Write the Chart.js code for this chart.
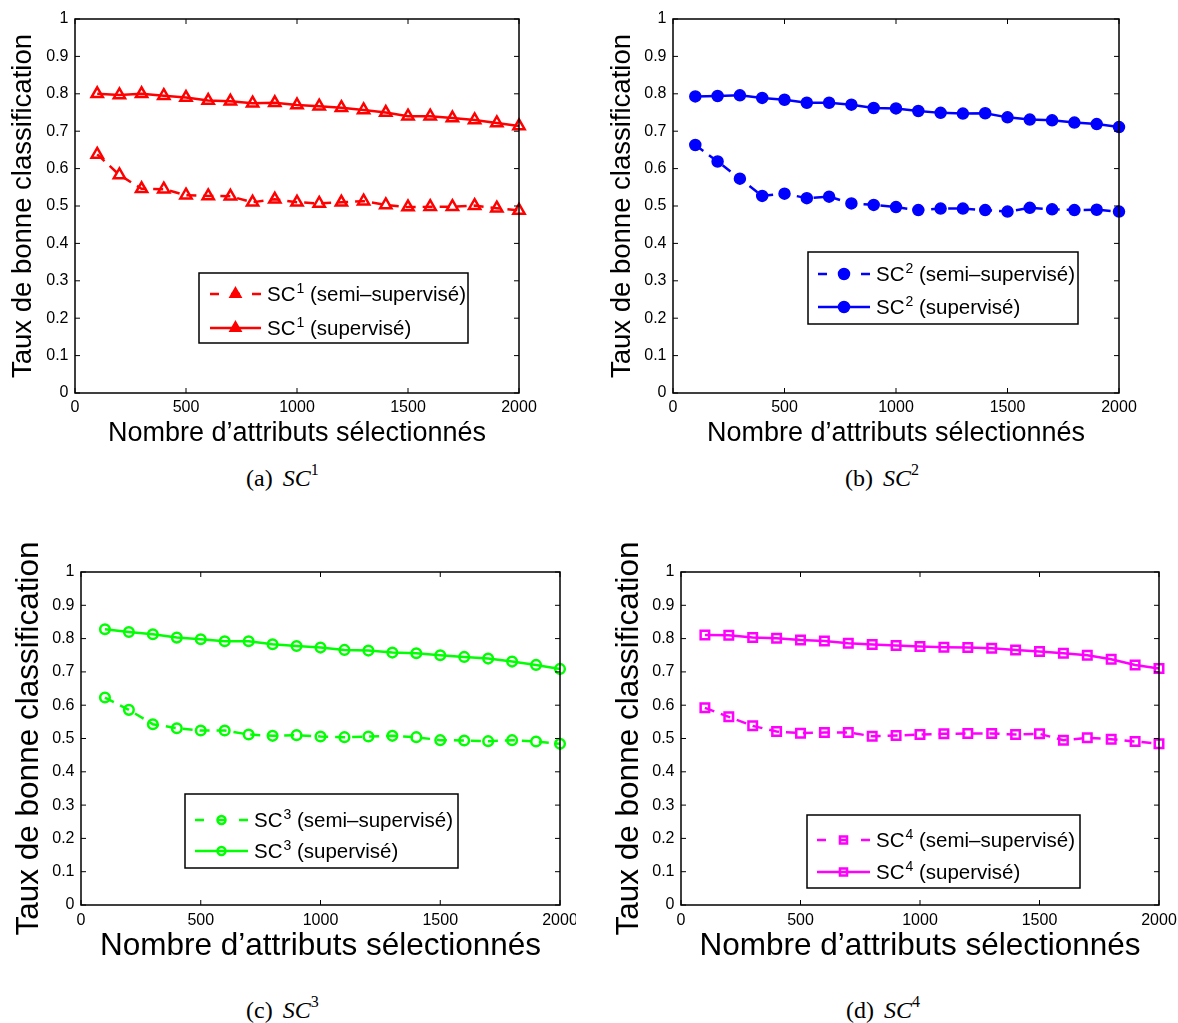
<!DOCTYPE html>
<html lang="fr">
<head>
<meta charset="utf-8">
<title>Taux de bonne classification – SC1 à SC4</title>
<script src="https://cdn.jsdelivr.net/npm/chart.js@4.4.1/dist/chart.umd.min.js"></script>
<style>
  html, body { margin: 0; padding: 0; background: #fff; }
  body { width: 1178px; height: 1023px; position: relative; overflow: hidden; }
  .panel { position: absolute; }
  .panel canvas { display: block; }
  .caption {
    position: absolute;
    font-family: "Liberation Serif", "Times New Roman", serif;
    font-size: 24px;
    line-height: 24px;
    color: #000;
    white-space: nowrap;
  }
  .caption i { font-style: italic; }
  .caption .sc { margin-left: 10px; }
  .caption sup { font-size: 16px; line-height: 0; position: relative; top: -2px; }
</style>
</head>
<body>

<div class="panel" style="left:0px;top:0px"><canvas id="chartA" width="560" height="460"></canvas></div>
<div class="panel" style="left:590px;top:0px"><canvas id="chartB" width="588" height="460"></canvas></div>
<div class="panel" style="left:0px;top:520px"><canvas id="chartC" width="576" height="470"></canvas></div>
<div class="panel" style="left:600px;top:520px"><canvas id="chartD" width="578" height="470"></canvas></div>

<div class="caption" style="left:246px;top:466px">(a)<span class="sc"><i>SC</i><sup>1</sup></span></div>
<div class="caption" style="left:845px;top:466px">(b)<span class="sc"><i>SC</i><sup>2</sup></span></div>
<div class="caption" style="left:246px;top:998px">(c)<span class="sc"><i>SC</i><sup>3</sup></span></div>
<div class="caption" style="left:846px;top:998px">(d)<span class="sc"><i>SC</i><sup>4</sup></span></div>

<script>
// Number of selected attributes (x values shared by every series)
const attributeCounts = [100, 200, 300, 400, 500, 600, 700, 800, 900, 1000,
                         1100, 1200, 1300, 1400, 1500, 1600, 1700, 1800, 1900, 2000];

// Classification rates, SC1
const sc1SemiSupervised = [0.638, 0.583, 0.546, 0.545, 0.529, 0.527, 0.526, 0.510, 0.518, 0.510,
                           0.507, 0.510, 0.513, 0.503, 0.497, 0.498, 0.498, 0.501, 0.494, 0.488];
const sc1Supervised     = [0.800, 0.797, 0.800, 0.795, 0.790, 0.782, 0.780, 0.775, 0.776, 0.770,
                           0.767, 0.763, 0.757, 0.750, 0.740, 0.740, 0.735, 0.730, 0.722, 0.714];

// Classification rates, SC2
const sc2SemiSupervised = [0.663, 0.619, 0.573, 0.527, 0.533, 0.521, 0.525, 0.507, 0.503, 0.497,
                           0.489, 0.493, 0.493, 0.489, 0.485, 0.495, 0.491, 0.489, 0.490, 0.485];
const sc2Supervised     = [0.793, 0.794, 0.796, 0.789, 0.784, 0.776, 0.776, 0.771, 0.762, 0.761,
                           0.754, 0.749, 0.747, 0.748, 0.737, 0.731, 0.729, 0.723, 0.719, 0.711];

// Classification rates, SC3
const sc3SemiSupervised = [0.623, 0.586, 0.543, 0.531, 0.524, 0.524, 0.512, 0.508, 0.510, 0.506,
                           0.504, 0.506, 0.508, 0.504, 0.495, 0.494, 0.492, 0.495, 0.491, 0.484];
const sc3Supervised     = [0.828, 0.820, 0.813, 0.803, 0.798, 0.792, 0.792, 0.783, 0.778, 0.773,
                           0.766, 0.764, 0.758, 0.756, 0.750, 0.745, 0.740, 0.731, 0.721, 0.709];

// Classification rates, SC4
const sc4SemiSupervised = [0.592, 0.565, 0.538, 0.521, 0.516, 0.518, 0.518, 0.507, 0.509, 0.512,
                           0.514, 0.515, 0.515, 0.512, 0.514, 0.495, 0.502, 0.498, 0.491, 0.484];
const sc4Supervised     = [0.811, 0.810, 0.803, 0.801, 0.796, 0.793, 0.786, 0.782, 0.779, 0.776,
                           0.774, 0.773, 0.771, 0.766, 0.761, 0.756, 0.750, 0.738, 0.721, 0.710];

// Axis ticks
const xTickValues = [0, 500, 1000, 1500, 2000];
const yTickValues = [0, 0.1, 0.2, 0.3, 0.4, 0.5, 0.6, 0.7, 0.8, 0.9, 1];

// Texts
const xAxisTitle = 'Nombre d\u2019attributs s\u00e9lectionn\u00e9s';
const yAxisTitle = 'Taux de bonne classification';
const semiSuffix = '(semi\u2013supervis\u00e9)';
const supSuffix = '(supervis\u00e9)';

const SANS = '"Liberation Sans", Arial, Helvetica, sans-serif';

const toPoints = values => values.map((v, i) => ({ x: attributeCounts[i], y: v }));

// Closed axes box with inward tick marks on all four sides
const axesFrame = {
  id: 'axesFrame',
  afterDatasetsDraw(chart, args, opts) {
    const { ctx, chartArea: a, scales: { x, y } } = chart;
    const len = opts.tickLength;
    ctx.save();
    ctx.strokeStyle = '#000';
    ctx.lineWidth = 1;
    ctx.beginPath();
    x.ticks.forEach(t => {
      const px = x.getPixelForValue(t.value);
      ctx.moveTo(px, a.bottom); ctx.lineTo(px, a.bottom - len);
      ctx.moveTo(px, a.top);    ctx.lineTo(px, a.top + len);
    });
    y.ticks.forEach(t => {
      const py = y.getPixelForValue(t.value);
      ctx.moveTo(a.left, py);  ctx.lineTo(a.left + len, py);
      ctx.moveTo(a.right, py); ctx.lineTo(a.right - len, py);
    });
    ctx.stroke();
    ctx.lineWidth = 1.5;
    ctx.strokeRect(a.left, a.top, a.right - a.left, a.bottom - a.top);
    ctx.restore();
  }
};

// Boxed legend placed inside the plot area, with superscript series index
const boxLegend = {
  id: 'boxLegend',
  afterDraw(chart, args, opts) {
    const ctx = chart.ctx;
    const b = opts.box;
    ctx.save();
    ctx.fillStyle = '#fff';
    ctx.fillRect(b.x, b.y, b.w, b.h);
    ctx.strokeStyle = '#000';
    ctx.lineWidth = 1.5;
    ctx.strokeRect(b.x, b.y, b.w, b.h);

    chart.data.datasets.forEach((ds, i) => {
      const rowY = opts.rows[i];
      const x0 = opts.lineX0, x1 = opts.lineX1, mid = (x0 + x1) / 2;
      ctx.strokeStyle = ds.borderColor;
      ctx.lineWidth = ds.borderWidth;
      ctx.setLineDash([]);
      ctx.beginPath();
      if (ds.borderDash && ds.borderDash.length) {
        const d = 9;
        ctx.moveTo(x0, rowY); ctx.lineTo(x0 + d, rowY);
        ctx.moveTo(mid - d / 2, rowY); ctx.lineTo(mid + d / 2, rowY);
        ctx.moveTo(x1 - d, rowY); ctx.lineTo(x1, rowY);
      } else {
        ctx.moveTo(x0, rowY); ctx.lineTo(x1, rowY);
      }
      ctx.stroke();

      ctx.fillStyle = opts.solidMarker ? ds.pointBorderColor : ds.pointBackgroundColor;
      ctx.strokeStyle = ds.pointBorderColor;
      ctx.lineWidth = ds.pointBorderWidth;
      Chart.helpers.drawPoint(ctx, {
        pointStyle: ds.pointStyle,
        radius: opts.markerRadius,
        rotation: 0,
        borderWidth: ds.pointBorderWidth
      }, mid, rowY);

      const fs = opts.fontSize;
      const base = rowY + fs * 0.36;
      let tx = opts.textX;
      ctx.fillStyle = '#000';
      ctx.textAlign = 'left';
      ctx.textBaseline = 'alphabetic';
      ctx.font = fs + 'px ' + SANS;
      ctx.fillText(ds.labelBase, tx, base);
      tx += ctx.measureText(ds.labelBase).width + 1;
      ctx.font = Math.round(fs * 0.68) + 'px ' + SANS;
      ctx.fillText(ds.labelIndex, tx, base - fs * 0.42);
      tx += ctx.measureText(ds.labelIndex).width;
      ctx.font = fs + 'px ' + SANS;
      ctx.fillText(' ' + ds.labelSuffix, tx, base);
    });
    ctx.restore();
  }
};

function buildPanel(canvasId, p) {
  const canvas = document.getElementById(canvasId);
  const W = canvas.width, H = canvas.height;
  const common = {
    borderColor: p.color,
    borderWidth: 2.5,
    pointStyle: p.marker,
    pointRadius: p.radius,
    pointBorderWidth: p.pointBorder,
    pointBorderColor: p.color,
    pointBackgroundColor: p.filled ? p.color : 'rgba(0,0,0,0)',
    tension: 0,
    fill: false,
    clip: false,
    labelBase: 'SC',
    labelIndex: p.index
  };
  return new Chart(canvas, {
    type: 'line',
    data: {
      datasets: [
        Object.assign({}, common, {
          label: 'SC' + p.index + ' ' + semiSuffix,
          labelSuffix: semiSuffix,
          data: toPoints(p.semi),
          borderDash: [10, 7]
        }),
        Object.assign({}, common, {
          label: 'SC' + p.index + ' ' + supSuffix,
          labelSuffix: supSuffix,
          data: toPoints(p.sup)
        })
      ]
    },
    options: {
      responsive: false,
      animation: false,
      events: [],
      layout: { padding: { top: p.area.top, right: W - p.area.right, left: 0, bottom: 0 } },
      plugins: {
        legend: { display: false },
        tooltip: { enabled: false },
        axesFrame: { tickLength: 5 },
        boxLegend: p.legend
      },
      scales: {
        x: {
          type: 'linear',
          min: 0, max: 2000,
          afterBuildTicks: s => { s.ticks = xTickValues.map(v => ({ value: v })); },
          ticks: {
            callback: v => String(v),
            color: '#000',
            font: { family: SANS, size: p.tickFont },
            padding: p.xTickPad,
            maxRotation: 0,
            autoSkip: false
          },
          grid: { display: false, drawTicks: false },
          border: { display: false },
          title: {
            display: true,
            text: xAxisTitle,
            color: '#000',
            font: { family: SANS, size: p.titleFont },
            padding: { top: 0, bottom: p.xTitlePad }
          },
          afterFit: s => { s.height = H - p.area.bottom; s.paddingLeft = 0; s.paddingRight = 0; }
        },
        y: {
          type: 'linear',
          min: 0, max: 1,
          afterBuildTicks: s => { s.ticks = yTickValues.map(v => ({ value: v })); },
          ticks: {
            callback: v => String(Number(v.toFixed(1))),
            color: '#000',
            font: { family: SANS, size: p.tickFont },
            padding: p.yTickPad,
            autoSkip: false
          },
          grid: { display: false, drawTicks: false },
          border: { display: false },
          title: {
            display: true,
            text: yAxisTitle,
            color: '#000',
            font: { family: SANS, size: p.yTitleFont },
            padding: { top: p.yTitlePad, bottom: 0 }
          },
          afterFit: s => { s.width = p.area.left; s.paddingTop = 0; s.paddingBottom = 0; }
        }
      }
    },
    plugins: [axesFrame, boxLegend]
  });
}

buildPanel('chartA', {
  index: '1', color: '#ff0000', marker: 'triangle', radius: 6.5, pointBorder: 2.5, filled: false,
  semi: sc1SemiSupervised, sup: sc1Supervised,
  area: { left: 75, top: 19, right: 519, bottom: 393 },
  tickFont: 16, titleFont: 27, yTitleFont: 27.5, xTickPad: 5, yTickPad: 6.5, xTitlePad: 10, yTitlePad: 7,
  legend: { box: { x: 199, y: 273, w: 269, h: 70 }, rows: [294, 328], lineX0: 210, lineX1: 261,
            textX: 267, markerRadius: 5.5, fontSize: 20.5, solidMarker: true }
});

buildPanel('chartB', {
  index: '2', color: '#0000ff', marker: 'circle', radius: 5.5, pointBorder: 1.5, filled: true,
  semi: sc2SemiSupervised, sup: sc2Supervised,
  area: { left: 83, top: 19, right: 529, bottom: 393 },
  tickFont: 16, titleFont: 27, yTitleFont: 27.5, xTickPad: 5, yTickPad: 6.5, xTitlePad: 10, yTitlePad: 16,
  legend: { box: { x: 218, y: 252, w: 270, h: 72 }, rows: [274, 307], lineX0: 228, lineX1: 280,
            textX: 286, markerRadius: 5.5, fontSize: 20.5, solidMarker: true }
});

buildPanel('chartC', {
  index: '3', color: '#00ff00', marker: 'circle', radius: 4.8, pointBorder: 2.5, filled: false,
  semi: sc3SemiSupervised, sup: sc3Supervised,
  area: { left: 81, top: 52, right: 560, bottom: 385 },
  tickFont: 16, titleFont: 31.5, yTitleFont: 31.5, xTickPad: 6, yTickPad: 6.5, xTitlePad: 25, yTitlePad: 10.5,
  legend: { box: { x: 185, y: 274, w: 273, h: 74 }, rows: [300, 331], lineX0: 195, lineX1: 248,
            textX: 254, markerRadius: 4, fontSize: 20.5, solidMarker: false }
});

buildPanel('chartD', {
  index: '4', color: '#ff00ff', marker: 'rect', radius: 6, pointBorder: 2.5, filled: false,
  semi: sc4SemiSupervised, sup: sc4Supervised,
  area: { left: 81, top: 52, right: 559, bottom: 385 },
  tickFont: 16, titleFont: 31.5, yTitleFont: 31.5, xTickPad: 6, yTickPad: 6.5, xTitlePad: 25, yTitlePad: 10.5,
  legend: { box: { x: 207, y: 295, w: 273, h: 73 }, rows: [320, 352], lineX0: 217, lineX1: 270,
            textX: 276, markerRadius: 5, fontSize: 20.5, solidMarker: false }
});
</script>
</body>
</html>
